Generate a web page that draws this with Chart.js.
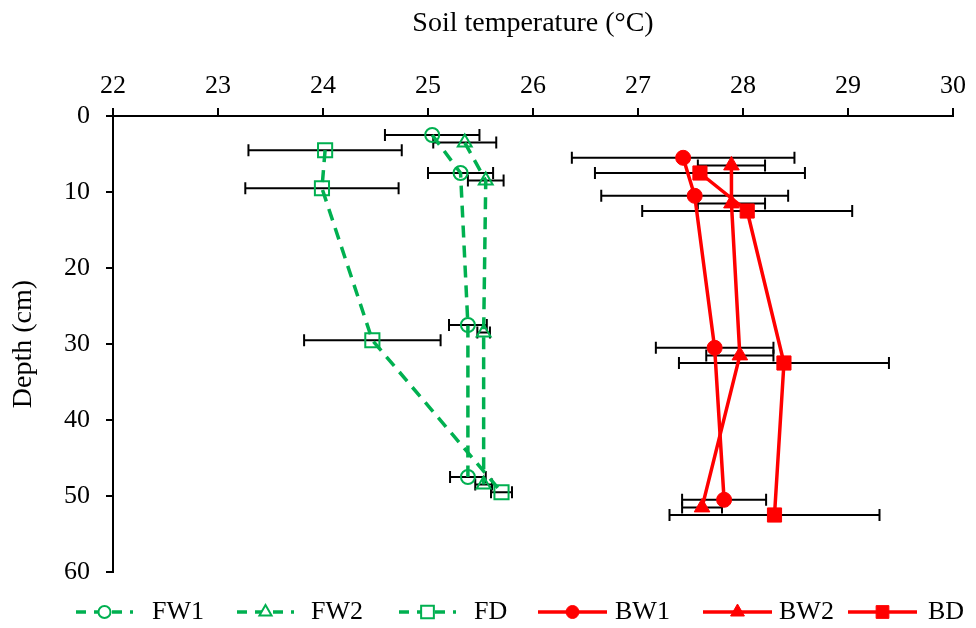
<!DOCTYPE html>
<html>
<head>
<meta charset="utf-8">
<script src="https://cdn.jsdelivr.net/npm/chart.js@4/dist/chart.umd.min.js"></script>
<style>
  html, body { margin: 0; padding: 0; background: #fff; }
  canvas { display: block; }
</style>
</head>
<body>
<canvas id="soilChart" width="976" height="628"></canvas>
<script>
// depth (cm), mean temperature (°C), error (±°C) per series
const fw1Depth = [2.5, 7.5, 27.5, 47.5];
const fw1Temp  = [25.04, 25.31, 25.38, 25.38];
const fw1Err   = [0.45, 0.31, 0.18, 0.17];

const fw2Depth = [3.5, 8.5, 28.5, 48.5];
const fw2Temp  = [25.35, 25.55, 25.53, 25.53];
const fw2Err   = [0.30, 0.17, 0.06, 0.08];

const fdDepth = [4.5, 9.5, 29.5, 49.5];
const fdTemp  = [24.02, 23.99, 24.47, 25.70];
const fdErr   = [0.73, 0.73, 0.65, 0.10];

const bw1Depth = [5.5, 10.5, 30.5, 50.5];
const bw1Temp  = [27.43, 27.54, 27.73, 27.82];
const bw1Err   = [1.06, 0.89, 0.56, 0.40];

const bw2Depth = [6.5, 11.5, 31.5, 51.5];
const bw2Temp  = [27.89, 27.89, 27.97, 27.61];
const bw2Err   = [0.32, 0.32, 0.32, 0.19];

const bdDepth = [7.5, 12.5, 32.5, 52.5];
const bdTemp  = [27.59, 28.04, 28.39, 28.30];
const bdErr   = [1.00, 1.00, 1.00, 1.00];

const xTitle = 'Soil temperature (°C)';
const yTitle = 'Depth (cm)';

const GREEN = '#00B050';
const RED = '#FF0000';
const FONT = '"Liberation Serif", "Times New Roman", serif';

const toPoints = (temps, depths, errs) =>
  temps.map((t, i) => ({ x: t, y: depths[i], err: errs[i] }));

const greenSeries = (label, pts, style, radius) => ({
  label, data: pts, showLine: true,
  borderColor: GREEN, borderWidth: 3.5, borderDash: [12, 8],
  pointStyle: style, pointRadius: radius, pointBorderWidth: 2,
  pointBorderColor: GREEN, pointBackgroundColor: 'rgba(0,0,0,0)'
});

const redSeries = (label, pts, style, radius) => ({
  label, data: pts, showLine: true,
  borderColor: RED, borderWidth: 3.5,
  pointStyle: style, pointRadius: radius, pointBorderWidth: 1,
  pointBorderColor: RED, pointBackgroundColor: RED
});

// horizontal error bars, drawn under the series
const errorBars = {
  id: 'errorBars',
  beforeDatasetsDraw(chart) {
    const { ctx, scales: { x, y } } = chart;
    ctx.save();
    ctx.strokeStyle = '#000';
    ctx.lineWidth = 2;
    chart.data.datasets.forEach(ds => {
      ds.data.forEach(p => {
        const py = y.getPixelForValue(p.y);
        const x1 = x.getPixelForValue(p.x - p.err);
        const x2 = x.getPixelForValue(p.x + p.err);
        ctx.beginPath();
        ctx.moveTo(x1, py); ctx.lineTo(x2, py);
        ctx.moveTo(x1, py - 6); ctx.lineTo(x1, py + 6);
        ctx.moveTo(x2, py - 6); ctx.lineTo(x2, py + 6);
        ctx.stroke();
      });
    });
    ctx.restore();
  }
};

// bottom legend with line + marker samples
const lineLegend = {
  id: 'lineLegend',
  afterDraw(chart) {
    const { ctx } = chart;
    const symStart = [76, 237, 399, 538, 703, 848];
    const textX = [152, 311, 474, 615, 779, 928];
    const ly = 612;
    ctx.save();
    chart.data.datasets.forEach((ds, i) => {
      const w = ds.borderDash ? 57 : 69;
      const x0 = symStart[i], x1 = x0 + w, cx = (x0 + x1) / 2;
      ctx.strokeStyle = ds.borderColor;
      ctx.lineWidth = ds.borderWidth;
      ctx.setLineDash(ds.borderDash ? [10, 8] : []);
      ctx.beginPath();
      ctx.moveTo(x0, ly); ctx.lineTo(x1, ly);
      ctx.stroke();
      ctx.setLineDash([]);
      ctx.lineWidth = ds.pointBorderWidth;
      ctx.strokeStyle = ds.pointBorderColor;
      ctx.fillStyle = ds.borderDash ? '#fff' : ds.pointBackgroundColor;
      Chart.helpers.drawPoint(ctx, {
        pointStyle: ds.pointStyle, radius: ds.pointRadius - 1,
        borderWidth: ds.pointBorderWidth
      }, cx, ly);
      ctx.fillStyle = '#000';
      ctx.font = '26px ' + FONT;
      ctx.textBaseline = 'middle';
      ctx.textAlign = 'left';
      ctx.fillText(ds.label, textX[i], ly);
    });
    ctx.restore();
  }
};

new Chart(document.getElementById('soilChart'), {
  type: 'scatter',
  data: {
    datasets: [
      greenSeries('FW1', toPoints(fw1Temp, fw1Depth, fw1Err), 'circle', 7),
      greenSeries('FW2', toPoints(fw2Temp, fw2Depth, fw2Err), 'triangle', 8),
      greenSeries('FD', toPoints(fdTemp, fdDepth, fdErr), 'rect', 10),
      redSeries('BW1', toPoints(bw1Temp, bw1Depth, bw1Err), 'circle', 7.5),
      redSeries('BW2', toPoints(bw2Temp, bw2Depth, bw2Err), 'triangle', 9),
      redSeries('BD', toPoints(bdTemp, bdDepth, bdErr), 'rect', 10)
    ]
  },
  options: {
    responsive: false,
    animation: false,
    devicePixelRatio: 1,
    layout: { padding: { top: 0, right: 23, bottom: 56, left: 0 } },
    plugins: { legend: { display: false }, tooltip: { enabled: false } },
    scales: {
      x: {
        type: 'linear', position: 'top', min: 22, max: 30,
        ticks: { stepSize: 1, color: '#000', font: { family: FONT, size: 26 }, padding: 6 },
        grid: { drawOnChartArea: false, tickLength: 8, color: '#000', lineWidth: 2 },
        border: { color: '#000', width: 2 },
        title: { display: true, text: xTitle, color: '#000', font: { family: FONT, size: 28 }, padding: { top: 7, bottom: 10 } },
        afterFit(scale) { scale.height = 116; }
      },
      y: {
        type: 'linear', position: 'left', reverse: true, min: 0, max: 60,
        ticks: { stepSize: 10, color: '#000', font: { family: FONT, size: 26 }, padding: 16 },
        grid: { drawOnChartArea: false, tickLength: 7, color: '#000', lineWidth: 2 },
        border: { color: '#000', width: 2 },
        title: { display: true, text: yTitle, color: '#000', font: { family: FONT, size: 28 }, padding: { top: 7, bottom: 0 } },
        afterFit(scale) { scale.width = 113; }
      }
    }
  },
  plugins: [errorBars, lineLegend]
});
</script>
</body>
</html>
